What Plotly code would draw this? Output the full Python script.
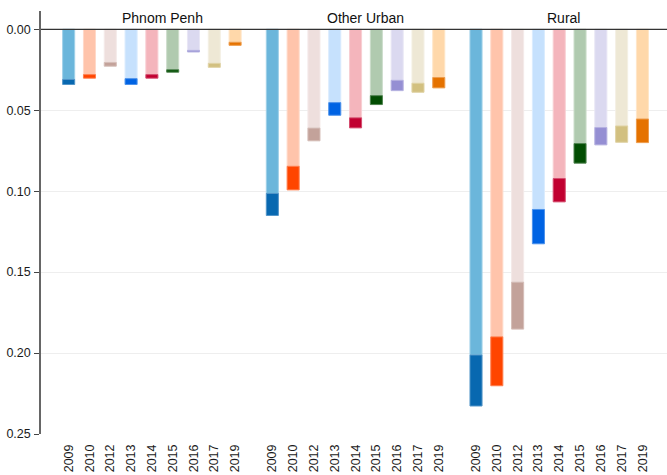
import plotly.graph_objects as go

# Survey years shown within each area
years = ["2009", "2010", "2012", "2013", "2014", "2015", "2016", "2017", "2019"]
areas = ["Phnom Penh", "Other Urban", "Rural"]

# Lower (light) component of each bar, by area
light_pp = [0.031, 0.028, 0.0205, 0.0305, 0.028, 0.025, 0.013, 0.021, 0.008]
light_ou = [0.1014, 0.0846, 0.061, 0.0453, 0.0547, 0.041, 0.0315, 0.0333, 0.0298]
light_ru = [0.2012, 0.190, 0.1562, 0.1113, 0.0922, 0.0706, 0.0607, 0.0597, 0.0554]

# Upper (dark) component stacked on top of the light one, by area
dark_pp = [0.0031, 0.0022, 0.0023, 0.0036, 0.0022, 0.0015, 0.0010, 0.0025, 0.0019]
dark_ou = [0.0136, 0.0146, 0.0079, 0.0078, 0.0062, 0.0055, 0.0064, 0.0056, 0.0064]
dark_ru = [0.0315, 0.0302, 0.0290, 0.0212, 0.0144, 0.0121, 0.0107, 0.0101, 0.0146]

light_colors = ["#6BB6DB", "#FFC4AB", "#EEDFDD", "#C6E1FD", "#F4B5BC",
                "#B0CAAF", "#DBD9F0", "#EEE8D5", "#FFD8AA"]
dark_colors = ["#0868B0", "#FF4500", "#C3A29A", "#0063E3", "#C10030",
               "#024D02", "#958FD3", "#D2C080", "#E57200"]

light_all = [light_pp, light_ou, light_ru]
dark_all = [dark_pp, dark_ou, dark_ru]

GROUP_STEP = 9.79  # slot distance between the first bars of neighbouring areas
BAR_W = 0.58


def blend(hex_color, t):
    """Mix a colour with white (t = share of white) for bar outlines."""
    h = hex_color.lstrip("#")
    r, g, b = (int(h[i:i + 2], 16) for i in (0, 2, 4))
    r = round(r + (255 - r) * t)
    g = round(g + (255 - g) * t)
    b = round(b + (255 - b) * t)
    return f"rgb({r},{g},{b})"


fig = go.Figure()

tickvals, ticktext = [], []
for g, area in enumerate(areas):
    xs = [g * GROUP_STEP + i for i in range(len(years))]
    tickvals += xs
    ticktext += years
    lights = light_all[g]
    darks = dark_all[g]
    fig.add_trace(go.Bar(
        x=xs, y=lights, base=[0] * len(xs), width=BAR_W,
        marker=dict(color=light_colors,
                    line=dict(color=[blend(c, 0.35) for c in light_colors], width=1)),
        showlegend=False, hoverinfo="skip",
    ))
    fig.add_trace(go.Bar(
        x=xs, y=darks, base=lights, width=BAR_W,
        marker=dict(color=dark_colors,
                    line=dict(color=[blend(c, 0.3) for c in dark_colors], width=1)),
        showlegend=False, hoverinfo="skip",
    ))

# Area headings above each block of bars
title_x = [4.52, 14.29, 23.77]
for area, tx in zip(areas, title_x):
    fig.add_annotation(
        x=tx, y=0, xref="x", yref="y", text=area, showarrow=False,
        yanchor="bottom", yshift=1,
        font=dict(family="Liberation Sans, Arial", size=14, color="#111111"),
    )

# Baseline at zero across the full width
fig.add_shape(type="line", xref="paper", yref="y", x0=0, x1=1, y0=0, y1=0,
              line=dict(color="#333333", width=1.2), layer="above")

fig.update_layout(
    width=667, height=475,
    margin=dict(l=41, r=0, t=11, b=41),
    paper_bgcolor="white", plot_bgcolor="white",
    barmode="overlay",
    font=dict(family="Liberation Sans, Arial", color="#333333"),
    xaxis=dict(
        range=[-1.33, 28.76],
        tickmode="array", tickvals=tickvals, ticktext=ticktext,
        tickangle=-90, tickfont=dict(size=12.5, color="#1a1a1a"),
        showgrid=False, zeroline=False, showline=False, ticks="",
        ticklabelstandoff=7,
    ),
    yaxis=dict(
        range=[0.25, -0.0113],
        tickmode="array", tickvals=[0, 0.05, 0.10, 0.15, 0.20, 0.25],
        ticktext=["0.00", "0.05", "0.10", "0.15", "0.20", "0.25"],
        tickfont=dict(size=12.5, color="#1a1a1a"),
        showgrid=True, gridcolor="#EEEEEE", gridwidth=1,
        zeroline=False, showline=True, linecolor="#666666", linewidth=1.5,
        ticks="outside", ticklen=5, tickcolor="#444444", tickwidth=1,
        ticklabelstandoff=1,
    ),
)

fig.write_html("out.html")
